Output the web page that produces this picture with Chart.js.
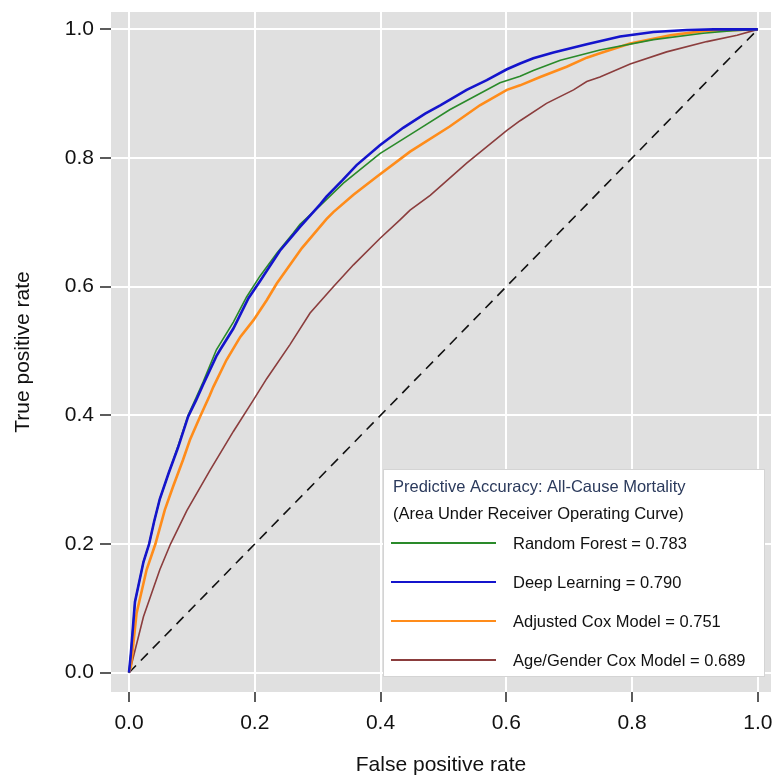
<!DOCTYPE html>
<html>
<head>
<meta charset="utf-8">
<script src="https://cdn.jsdelivr.net/npm/chart.js@4.4.1/dist/chart.umd.min.js"></script>
<style>
  html, body { margin: 0; padding: 0; background: #ffffff; }
  #wrap { width: 772px; height: 778px; }
</style>
</head>
<body>
<div id="wrap"><canvas id="c" width="772" height="778"></canvas></div>
<script>
// ---- Data ----
const tickValues = [0, 0.2, 0.4, 0.6, 0.8, 1.0];

const legendTitle = 'Predictive Accuracy: All-Cause Mortality';
const legendSubtitle = '(Area Under Receiver Operating Curve)';

const seriesLabels = [
  'Random Forest = 0.783',
  'Deep Learning = 0.790',
  'Adjusted Cox Model = 0.751',
  'Age/Gender Cox Model = 0.689'
];

const rfFpr = [0, 0.003, 0.0095, 0.023, 0.032, 0.04, 0.049, 0.063, 0.078, 0.094, 0.107, 0.118, 0.139, 0.166, 0.187, 0.208, 0.235, 0.261, 0.272, 0.304, 0.341, 0.399, 0.458, 0.51, 0.59, 0.622, 0.643, 0.686, 0.749, 0.834, 0.913, 0.96, 1];
const rfTpr = [0, 0.03, 0.11, 0.172, 0.2, 0.235, 0.27, 0.31, 0.352, 0.4, 0.428, 0.452, 0.502, 0.545, 0.584, 0.616, 0.652, 0.683, 0.697, 0.726, 0.761, 0.807, 0.843, 0.875, 0.917, 0.927, 0.936, 0.952, 0.968, 0.984, 0.994, 0.998, 1];

const dlFpr = [0, 0.003, 0.0095, 0.023, 0.032, 0.04, 0.049, 0.063, 0.078, 0.094, 0.107, 0.118, 0.139, 0.145, 0.166, 0.19, 0.208, 0.24, 0.272, 0.304, 0.314, 0.34, 0.362, 0.399, 0.436, 0.471, 0.495, 0.537, 0.569, 0.601, 0.622, 0.643, 0.675, 0.728, 0.781, 0.834, 0.887, 0.93, 1];
const dlTpr = [0, 0.03, 0.11, 0.172, 0.2, 0.235, 0.27, 0.31, 0.35, 0.398, 0.424, 0.448, 0.492, 0.502, 0.535, 0.582, 0.608, 0.656, 0.693, 0.728, 0.74, 0.766, 0.789, 0.82, 0.847, 0.869, 0.882, 0.906, 0.921, 0.938, 0.947, 0.955, 0.964, 0.977, 0.989, 0.996, 0.999, 1.0, 1];

const acFpr = [0, 0.003, 0.012, 0.028, 0.042, 0.057, 0.07, 0.086, 0.097, 0.113, 0.128, 0.134, 0.155, 0.177, 0.198, 0.219, 0.235, 0.275, 0.314, 0.325, 0.357, 0.394, 0.447, 0.51, 0.558, 0.601, 0.622, 0.654, 0.696, 0.728, 0.749, 0.797, 0.861, 0.919, 1];
const acTpr = [0, 0.009, 0.092, 0.16, 0.2, 0.253, 0.289, 0.331, 0.362, 0.398, 0.43, 0.444, 0.486, 0.522, 0.548, 0.579, 0.605, 0.66, 0.705, 0.716, 0.743, 0.771, 0.81, 0.849, 0.882, 0.906, 0.913, 0.926, 0.942, 0.956, 0.963, 0.978, 0.991, 0.998, 1];

const agFpr = [0, 0.003, 0.023, 0.049, 0.066, 0.092, 0.129, 0.166, 0.198, 0.219, 0.256, 0.288, 0.325, 0.357, 0.399, 0.431, 0.447, 0.479, 0.537, 0.601, 0.622, 0.664, 0.707, 0.728, 0.749, 0.797, 0.855, 0.919, 0.967, 1];
const agTpr = [0, 0.009, 0.087, 0.16, 0.2, 0.252, 0.315, 0.375, 0.424, 0.457, 0.51, 0.559, 0.6, 0.634, 0.675, 0.704, 0.719, 0.742, 0.792, 0.843, 0.858, 0.885, 0.906, 0.919, 0.926, 0.946, 0.965, 0.981, 0.991, 1];

const chanceFpr = [0, 1];
const chanceTpr = [0, 1];

// ---- Build chart ----
function pts(xs, ys) { return xs.map((x, i) => ({ x: x, y: ys[i] })); }

const FONT = '"Liberation Sans", Arial, sans-serif';

const panelPlugin = {
  id: 'panel',
  beforeDraw(chart) {
    const { ctx, chartArea: a } = chart;
    ctx.save();
    ctx.fillStyle = '#e0e0e0';
    ctx.fillRect(a.left, a.top, a.right - a.left, a.bottom - a.top);
    ctx.restore();
  }
};

const boxLegendPlugin = {
  id: 'boxLegend',
  afterDatasetsDraw(chart) {
    const { ctx, chartArea: a } = chart;
    const w = 382, h = 208;
    const left = a.right - 6 - w;
    const top = a.bottom - 15 - h;
    ctx.save();
    ctx.fillStyle = '#ffffff';
    ctx.fillRect(left, top, w, h);
    ctx.strokeStyle = '#d4d4d4';
    ctx.lineWidth = 1;
    ctx.strokeRect(left + 0.5, top + 0.5, w - 1, h - 1);
    ctx.textBaseline = 'middle';
    ctx.textAlign = 'left';
    ctx.font = '16.5px ' + FONT;
    ctx.fillStyle = '#2b3a5c';
    ctx.fillText(legendTitle, left + 10, top + 18);
    ctx.fillStyle = '#111111';
    ctx.fillText(legendSubtitle, left + 10, top + 45);
    const ds = chart.data.datasets;
    for (let i = 0; i < seriesLabels.length; i++) {
      const y = top + 74 + i * 39;
      ctx.strokeStyle = ds[i].borderColor;
      ctx.lineWidth = 2;
      ctx.beginPath();
      ctx.moveTo(left + 8, y);
      ctx.lineTo(left + 113, y);
      ctx.stroke();
      ctx.fillStyle = '#111111';
      ctx.fillText(seriesLabels[i], left + 130, y + 1);
    }
    ctx.restore();
  }
};

const setTicks = (scale) => { scale.ticks = tickValues.map(v => ({ value: v })); };

new Chart(document.getElementById('c'), {
  type: 'line',
  data: {
    datasets: [
      { label: seriesLabels[0], data: pts(rfFpr, rfTpr), borderColor: '#2a8a2a', borderWidth: 1.6, order: 1 },
      { label: seriesLabels[1], data: pts(dlFpr, dlTpr), borderColor: '#1414cc', borderWidth: 2.6, order: 0 },
      { label: seriesLabels[2], data: pts(acFpr, acTpr), borderColor: '#ff8c1a', borderWidth: 2.6, order: 2 },
      { label: seriesLabels[3], data: pts(agFpr, agTpr), borderColor: '#8b3d3d', borderWidth: 1.6, order: 3 },
      { label: 'chance', data: pts(chanceFpr, chanceTpr), borderColor: '#111111', borderWidth: 1.6, borderDash: [10, 7], order: 4 }
    ]
  },
  options: {
    responsive: false,
    animation: false,
    devicePixelRatio: 1,
    parsing: true,
    elements: { point: { radius: 0, hoverRadius: 0 }, line: { tension: 0, fill: false } },
    layout: { padding: { top: 12, right: 1, left: 0, bottom: 0 } },
    plugins: { legend: { display: false }, tooltip: { enabled: false } },
    scales: {
      x: {
        type: 'linear',
        min: -0.0286,
        max: 1.021,
        afterBuildTicks: setTicks,
        afterFit: (s) => { s.height = 86; s.paddingLeft = 0; s.paddingRight = 0; },
        border: { display: false },
        grid: { color: '#ffffff', lineWidth: 2, drawTicks: true, tickLength: 10, tickColor: '#333333', tickWidth: 1.6 },
        ticks: { color: '#111111', padding: 9, font: { family: FONT, size: 21 }, callback: (v) => Number(v).toFixed(1), maxRotation: 0, autoSkip: false },
        title: { display: true, text: 'False positive rate', color: '#111111', font: { family: FONT, size: 21 }, padding: { top: 0, bottom: 0 } }
      },
      y: {
        type: 'linear',
        min: -0.030,
        max: 1.027,
        afterBuildTicks: setTicks,
        afterFit: (s) => { s.width = 111; s.paddingTop = 0; s.paddingBottom = 0; },
        border: { display: false },
        grid: { color: '#ffffff', lineWidth: 2, drawTicks: true, tickLength: 11, tickColor: '#333333', tickWidth: 1.6 },
        ticks: { color: '#111111', padding: 6, font: { family: FONT, size: 21 }, callback: (v) => Number(v).toFixed(1), autoSkip: false },
        title: { display: true, text: 'True positive rate', color: '#111111', font: { family: FONT, size: 21 }, padding: { top: 11, bottom: 0 } }
      }
    }
  },
  plugins: [panelPlugin, boxLegendPlugin]
});
</script>
</body>
</html>
